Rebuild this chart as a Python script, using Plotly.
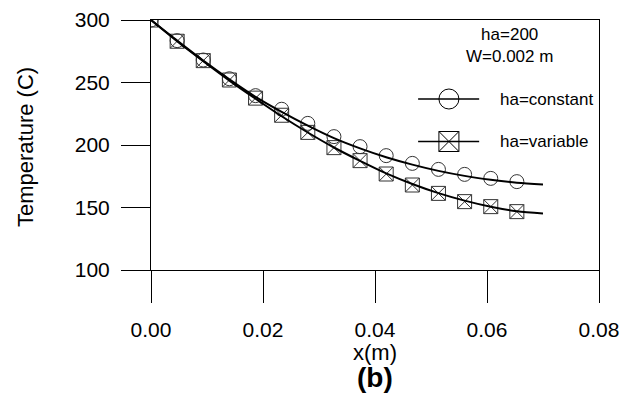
import plotly.graph_objects as go

# ---- data ----
x_pts = [0.0, 0.00467, 0.00933, 0.0140, 0.01867, 0.02333, 0.0280, 0.03267,
         0.03733, 0.0420, 0.04667, 0.05133, 0.0560, 0.06067, 0.06533]
T_const = [300, 283.5, 268, 253, 239.5, 228.6, 217.3, 206.7, 198.7, 191.5,
           185.3, 180.5, 176.5, 173.3, 170.7]
T_var = [300, 283, 267.5, 252, 237.5, 223.8, 210.1, 197.9, 187.5, 176.8,
         168, 161.3, 154.7, 150.7, 146.7]

x_curve = [0.0, 0.00467, 0.00933, 0.0140, 0.01867, 0.02333, 0.0280, 0.03267,
           0.03733, 0.0420, 0.04667, 0.05133, 0.0560, 0.06067, 0.06533, 0.07]
curve_const = [300, 283.5, 267.5, 252.5, 238.5, 226.5, 215.5, 205.5, 197.3,
               190.2, 184.3, 179.3, 175.3, 172.2, 169.8, 168.5]
curve_var = [300, 283, 267, 251.5, 237, 223, 210, 198, 187.3, 177.3, 168.8,
             161.5, 155.5, 150.6, 147, 145.3]

x_ticks = [0.0, 0.02, 0.04, 0.06, 0.08]
x_ticktext = ["0.00", "0.02", "0.04", "0.06", "0.08"]
y_ticks = [100, 150, 200, 250, 300]

series_names = ["ha=constant", "ha=variable"]

FONT = "Liberation Sans, Arial"
MC = "#333333"

fig = go.Figure()

fig.add_trace(go.Scatter(x=x_pts, y=T_const, mode="markers", showlegend=False,
                         marker=dict(symbol="circle-open", size=14,
                                     line=dict(color=MC, width=1), color=MC)))
fig.add_trace(go.Scatter(x=x_pts, y=T_var, mode="markers", showlegend=False,
                         marker=dict(symbol="square-x-open", size=14,
                                     line=dict(color=MC, width=1), color=MC)))
fig.add_trace(go.Scatter(x=x_curve, y=curve_const, mode="lines", showlegend=False,
                         line=dict(color="black", width=2, shape="spline", smoothing=0.8)))
fig.add_trace(go.Scatter(x=x_curve, y=curve_var, mode="lines", showlegend=False,
                         line=dict(color="black", width=2, shape="spline", smoothing=0.8)))

# ---- hand-drawn legend (long line sample with big marker) ----
leg_x0, leg_xm, leg_x1, leg_tx = 0.0477, 0.0532, 0.0586, 0.0620
leg_y = [236.8, 202.8]
leg_sym = ["circle-open", "square-x-open"]
for name, yy, sym in zip(series_names, leg_y, leg_sym):
    fig.add_trace(go.Scatter(x=[leg_x0, leg_x1], y=[yy, yy], mode="lines",
                             showlegend=False, line=dict(color="black", width=1.5)))
    fig.add_trace(go.Scatter(x=[leg_xm], y=[yy], mode="markers", showlegend=False,
                             marker=dict(symbol=sym, size=20, color="black",
                                         line=dict(color="black", width=1))))
    fig.add_annotation(x=leg_tx, y=yy, text=name, showarrow=False,
                       xanchor="left", yanchor="middle",
                       font=dict(family=FONT, size=17, color="black"))

fig.add_annotation(x=0.0640, y=280, text="ha=200<br>W=0.002 m", showarrow=False,
                   xanchor="center", yanchor="middle", align="center",
                   font=dict(family=FONT, size=17, color="black"))

# axis titles and panel label
fig.add_annotation(xref="paper", yref="paper", x=(25 - 151) / 448, y=(270 - 147) / 250,
                   text="Temperature (C)", textangle=-90, showarrow=False,
                   xanchor="center", yanchor="middle",
                   font=dict(family=FONT, size=22, color="black"))
fig.add_annotation(xref="paper", yref="paper", x=0.5, y=-(352 - 270) / 250, text="x(m)",
                   showarrow=False, xanchor="center", yanchor="middle",
                   font=dict(family=FONT, size=22, color="black"))
fig.add_annotation(xref="paper", yref="paper", x=0.5, y=-(377 - 270) / 250, text="<b>(b)</b>",
                   showarrow=False, xanchor="center", yanchor="middle",
                   font=dict(family=FONT, size=28, color="black"))

fig.update_layout(
    width=639, height=405,
    margin=dict(l=151, r=40, t=20, b=135),
    paper_bgcolor="white", plot_bgcolor="white",
    font=dict(family=FONT, color="black"),
    xaxis=dict(range=[0, 0.08], tickvals=x_ticks, ticktext=x_ticktext,
               ticks="outside", ticklen=32, tickwidth=1, tickcolor="black",
               showgrid=False, zeroline=False, showline=True, linecolor="black",
               linewidth=1, mirror=True, tickfont=dict(family=FONT, size=21),
               ticklabelstandoff=9, automargin=False),
    yaxis=dict(range=[100, 300], tickvals=y_ticks,
               ticks="outside", ticklen=29, tickwidth=1, tickcolor="black",
               showgrid=False, zeroline=False, showline=True, linecolor="black",
               linewidth=1, mirror=True, tickfont=dict(family=FONT, size=21),
               ticklabelstandoff=7, automargin=False),
)

fig.write_html("out.html")
